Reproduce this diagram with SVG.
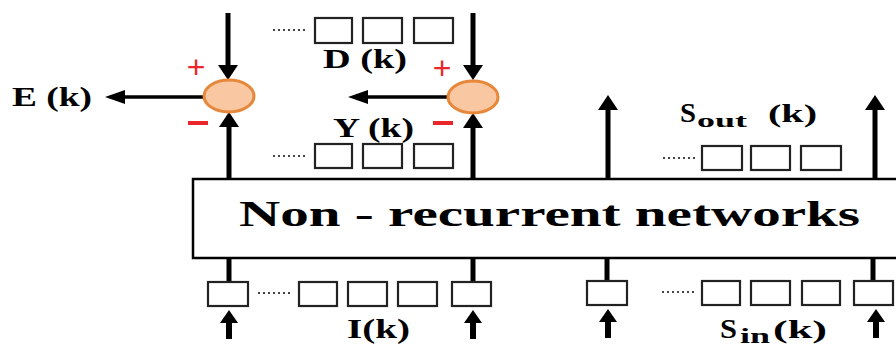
<svg xmlns="http://www.w3.org/2000/svg" width="896" height="347" viewBox="0 0 896 347">
<style>
.lbl{font-family:"Liberation Serif","Times New Roman",serif;font-weight:bold;fill:#000}
.sign{font-family:"Liberation Sans",Arial,sans-serif;fill:#e8262b}
.reg{fill:#fff;stroke:#222;stroke-width:2.2}
.dots{stroke:#444;stroke-width:2;stroke-dasharray:2 3}
.thick{stroke:#000;stroke-width:5;fill:none}
.thin{stroke:#000;stroke-width:3.5;fill:none}
.sum{fill:#f9c7a1;stroke:#e6873a;stroke-width:3}
</style>
<defs>
<marker id="big" markerUnits="userSpaceOnUse" markerWidth="15" markerHeight="20" refX="0" refY="10" orient="auto"><path d="M0,0 L15,10 L0,20 z" fill="#000"/></marker>
<marker id="side" markerUnits="userSpaceOnUse" markerWidth="20" markerHeight="14" refX="0" refY="7" orient="auto"><path d="M0,0 L20,7 L0,14 z" fill="#000"/></marker>
<marker id="small" markerUnits="userSpaceOnUse" markerWidth="13" markerHeight="18" refX="0" refY="9" orient="auto"><path d="M0,0 L13,9 L0,18 z" fill="#000"/></marker>
</defs>
<rect width="896" height="347" fill="#fff"/>
<g id="connectors">
<line class="thick" x1="228" y1="13" x2="228" y2="65" marker-end="url(#big)"/>
<line class="thick" x1="473" y1="13" x2="473" y2="65" marker-end="url(#big)"/>
<line class="thick" x1="229" y1="179" x2="229" y2="127" marker-end="url(#big)"/>
<line class="thick" x1="473" y1="179" x2="473" y2="128" marker-end="url(#big)"/>
<line class="thick" x1="608" y1="179" x2="608" y2="110" marker-end="url(#big)"/>
<line class="thick" x1="875" y1="179" x2="875" y2="110" marker-end="url(#big)"/>
<line class="thin" x1="204" y1="97" x2="125" y2="97" marker-end="url(#side)"/>
<line class="thin" x1="448" y1="97" x2="368" y2="97" marker-end="url(#side)"/>
<line class="thick" x1="229" y1="258" x2="229" y2="282"/>
<line class="thick" x1="473" y1="258" x2="473" y2="282"/>
<line class="thick" x1="607" y1="258" x2="607" y2="281"/>
<line class="thick" x1="873" y1="258" x2="873" y2="281"/>
<line class="thick" style="stroke-width:6" x1="229" y1="339" x2="229" y2="323" marker-end="url(#small)"/>
<line class="thick" style="stroke-width:6" x1="473" y1="339" x2="473" y2="323" marker-end="url(#small)"/>
<line class="thick" style="stroke-width:6" x1="608" y1="338" x2="608" y2="322" marker-end="url(#small)"/>
<line class="thick" style="stroke-width:6" x1="876" y1="338" x2="876" y2="322" marker-end="url(#small)"/>
</g>
<g id="network">
<rect x="193" y="179" width="720" height="79" fill="#fff" stroke="#000" stroke-width="2.5"/>
<text class="lbl" x="239" y="226" font-size="36" textLength="621" lengthAdjust="spacingAndGlyphs">Non - recurrent networks</text>
</g>
<g id="sum1">
<ellipse class="sum" cx="229" cy="96" rx="25" ry="16"/>
<text class="sign" x="196" y="78" font-size="32" text-anchor="middle">+</text>
<rect x="188" y="121" width="20" height="4" fill="#e8262b"/>
</g>
<g id="sum2">
<ellipse class="sum" cx="473" cy="97" rx="25" ry="16"/>
<text class="sign" x="442" y="79" font-size="32" text-anchor="middle">+</text>
<rect x="433" y="121" width="20" height="4" fill="#e8262b"/>
</g>
<g id="E">
<text class="lbl" x="12" y="106" font-size="28" textLength="80" lengthAdjust="spacingAndGlyphs">E (k)</text>
</g>
<g id="D">
<line class="dots" x1="273" y1="30" x2="306" y2="30"/>
<rect class="reg" x="315" y="18" width="37" height="25"/>
<rect class="reg" x="363" y="18" width="39" height="25"/>
<rect class="reg" x="414" y="18" width="39" height="25"/>
<text class="lbl" x="323" y="68" font-size="27" textLength="84" lengthAdjust="spacingAndGlyphs">D (k)</text>
</g>
<g id="Y">
<line class="dots" x1="273" y1="156" x2="306" y2="156"/>
<rect class="reg" x="315" y="144" width="37" height="24"/>
<rect class="reg" x="363" y="144" width="39" height="24"/>
<rect class="reg" x="414" y="144" width="39" height="24"/>
<text class="lbl" x="333" y="137" font-size="27" textLength="81" lengthAdjust="spacingAndGlyphs">Y (k)</text>
</g>
<g id="Sout">
<line class="dots" x1="663" y1="158" x2="695" y2="158"/>
<rect class="reg" x="702" y="146" width="40" height="24"/>
<rect class="reg" x="751" y="146" width="39" height="24"/>
<rect class="reg" x="801" y="146" width="40" height="24"/>
<text class="lbl" x="680" y="122" font-size="27" textLength="16" lengthAdjust="spacingAndGlyphs">S</text>
<text class="lbl" x="697" y="127" font-size="19" textLength="50" lengthAdjust="spacingAndGlyphs">out</text>
<text class="lbl" x="768" y="122" font-size="25" textLength="49" lengthAdjust="spacingAndGlyphs">(k)</text>
</g>
<g id="I">
<rect class="reg" x="208" y="282" width="40" height="24"/>
<line class="dots" x1="258" y1="293" x2="292" y2="293"/>
<rect class="reg" x="299" y="282" width="38" height="24"/>
<rect class="reg" x="348" y="282" width="39" height="24"/>
<rect class="reg" x="398" y="282" width="39" height="24"/>
<rect class="reg" x="452" y="282" width="39" height="24"/>
<text class="lbl" x="347" y="338" font-size="28" textLength="63" lengthAdjust="spacingAndGlyphs">I(k)</text>
</g>
<g id="Sin">
<rect class="reg" x="587" y="281" width="40" height="24"/>
<line class="dots" x1="662" y1="292" x2="694" y2="292"/>
<rect class="reg" x="702" y="281" width="38" height="24"/>
<rect class="reg" x="751" y="281" width="39" height="24"/>
<rect class="reg" x="802" y="281" width="38" height="24"/>
<rect class="reg" x="854" y="281" width="39" height="24"/>
<text class="lbl" x="720" y="338" font-size="27" textLength="17" lengthAdjust="spacingAndGlyphs">S</text>
<text class="lbl" x="740" y="343" font-size="20" textLength="30" lengthAdjust="spacingAndGlyphs">in</text>
<text class="lbl" x="773" y="338" font-size="26" textLength="54" lengthAdjust="spacingAndGlyphs">(k)</text>
</g>
</svg>
